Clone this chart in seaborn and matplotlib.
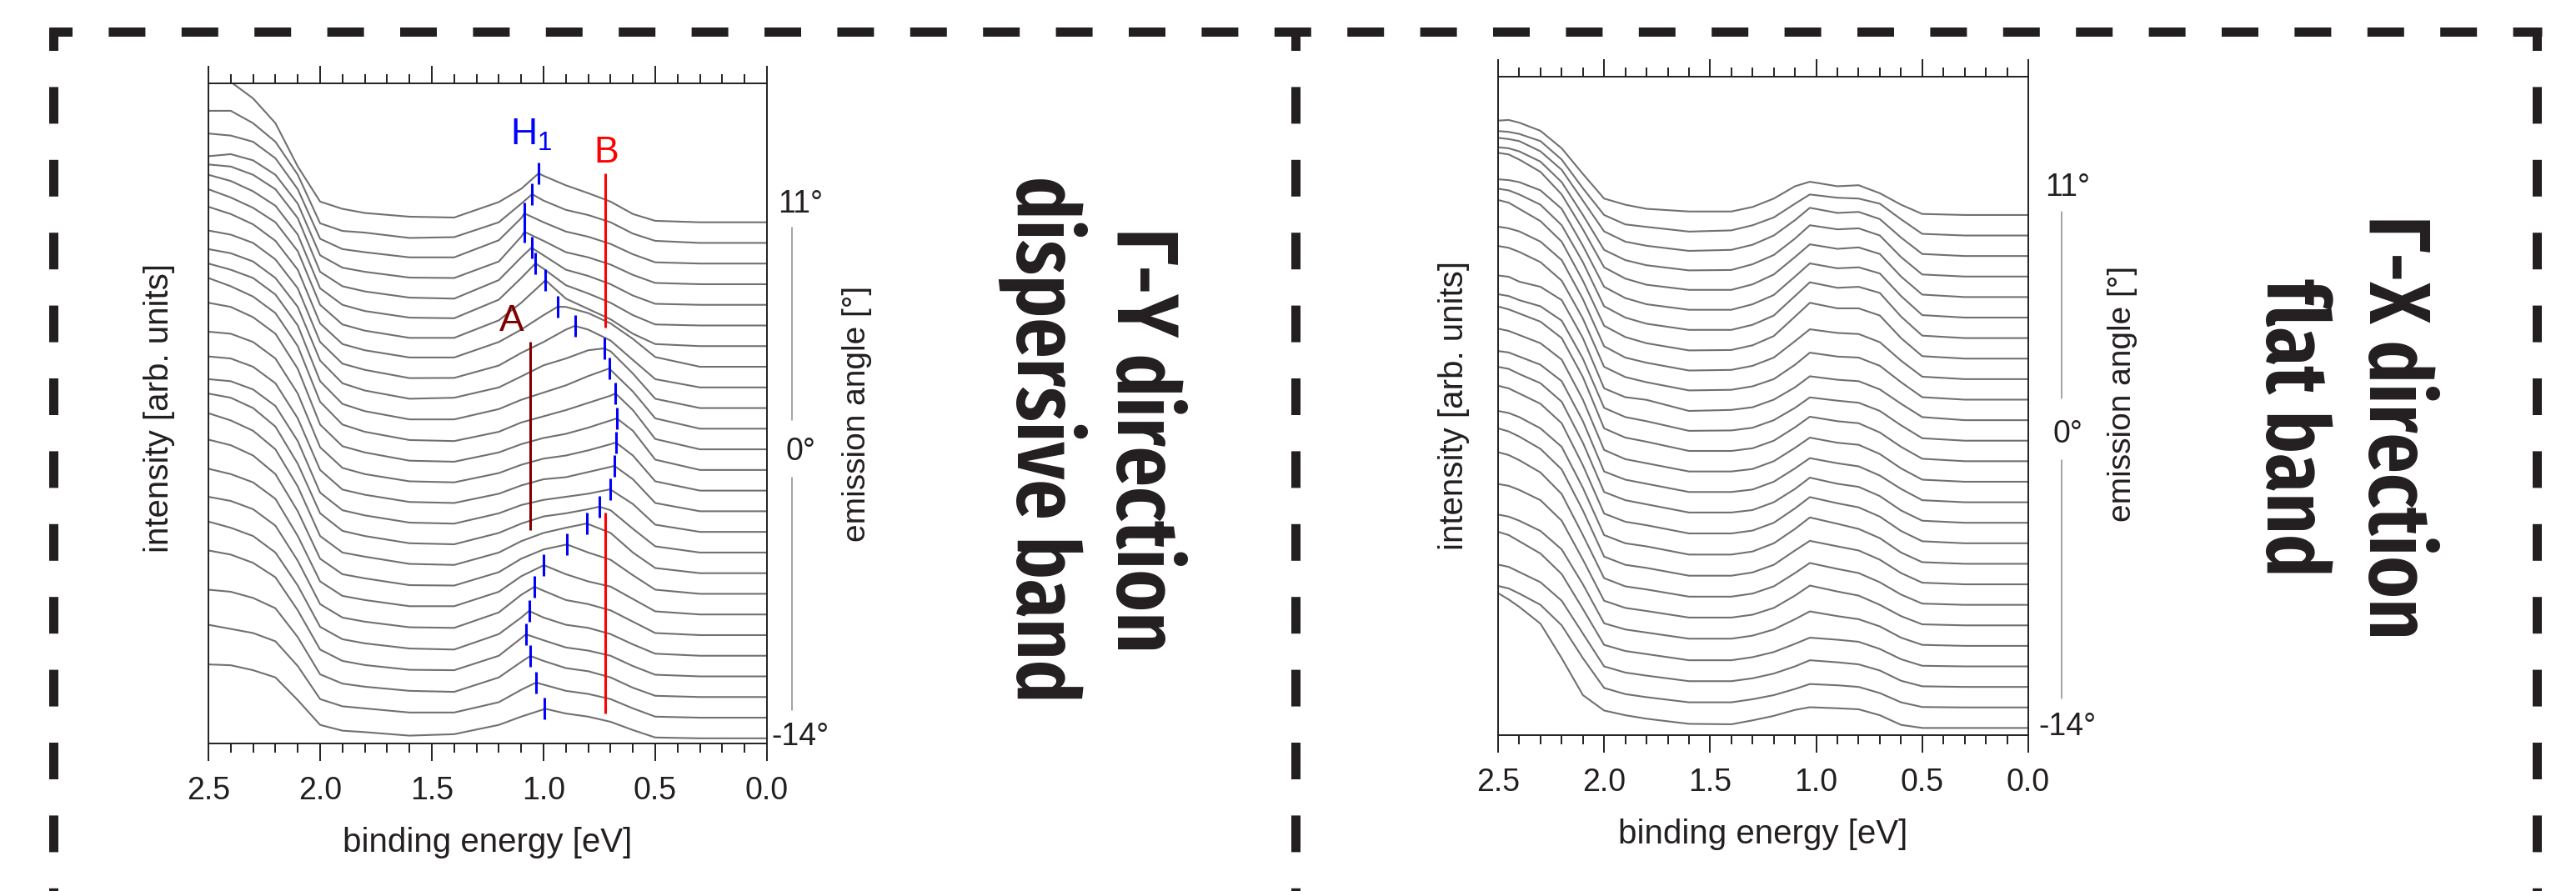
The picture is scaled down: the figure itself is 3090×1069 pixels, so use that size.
import numpy as np
import pandas as pd
import matplotlib
matplotlib.use("Agg")
import matplotlib.pyplot as plt
from matplotlib import font_manager
from matplotlib.font_manager import FontProperties
from matplotlib.ft2font import FT2Font
from matplotlib.lines import Line2D
from matplotlib.ticker import MultipleLocator, FormatStrFormatter
import seaborn as sns

# one EDC per degree of emission angle, top curve = 11 deg
angles = list(range(11, -15, -1))

# ---- Gamma-Y panel (dispersive band) ----
# intensity above each curve's own baseline (unit = curve spacing), read at these energies
gy_energy = [2.5, 2.4, 2.3, 2.2, 2.1, 2.0, 1.9, 1.8, 1.6, 1.4, 1.2, 1.1, 1.0, 0.9, 0.8, 0.7, 0.6, 0.5, 0.3, 0.0]
gy_curves = [
    [7.30, 6.80, 6.00, 4.80, 2.70, 1.00, 0.65, 0.45, 0.27, 0.23, 0.98, 1.62, 2.25, 1.79, 1.41, 1.00, 0.40, 0.07, 0.0, 0.0],
    [6.40, 6.40, 5.80, 4.90, 3.30, 0.95, 0.58, 0.50, 0.24, 0.28, 1.00, 1.90, 2.05, 1.60, 1.35, 1.00, 0.45, 0.10, 0.0, 0.0],
    [6.30, 6.20, 5.90, 5.10, 3.60, 1.20, 0.70, 0.55, 0.30, 0.30, 1.13, 2.20, 2.00, 1.55, 1.30, 0.95, 0.45, 0.06, 0.0, 0.0],
    [6.20, 6.30, 6.00, 5.30, 3.90, 1.40, 0.80, 0.60, 0.32, 0.30, 1.10, 2.30, 2.10, 1.55, 1.30, 0.95, 0.45, 0.06, 0.0, 0.0],
    [6.80, 6.70, 6.30, 5.60, 4.20, 1.60, 0.90, 0.65, 0.35, 0.30, 1.20, 2.30, 2.40, 1.70, 1.40, 1.00, 0.45, 0.05, 0.0, 0.0],
    [7.30, 7.00, 6.50, 5.80, 4.40, 1.80, 1.00, 0.70, 0.38, 0.35, 1.25, 2.30, 2.75, 1.95, 1.55, 1.10, 0.50, 0.05, 0.0, 0.0],
    [7.60, 7.20, 6.70, 6.00, 4.60, 2.00, 1.05, 0.75, 0.40, 0.40, 1.25, 2.10, 3.10, 2.30, 1.80, 1.30, 0.60, 0.10, 0.0, 0.0],
    [7.75, 7.40, 6.90, 6.10, 4.70, 2.10, 1.10, 0.80, 0.45, 0.45, 1.20, 1.80, 2.50, 2.90, 2.60, 2.10, 1.35, 0.47, 0.0, 0.0],
    [7.60, 7.40, 7.00, 6.20, 4.80, 2.20, 1.15, 0.85, 0.45, 0.46, 1.06, 1.67, 2.20, 2.80, 2.80, 2.27, 1.33, 0.40, 0.0, 0.0],
    [7.70, 7.50, 7.10, 6.30, 4.90, 2.30, 1.20, 0.85, 0.45, 0.50, 1.00, 1.53, 2.07, 2.40, 2.80, 2.75, 1.67, 0.45, 0.0, 0.0],
    [8.00, 7.70, 7.30, 6.50, 5.00, 2.30, 1.20, 0.85, 0.45, 0.45, 0.95, 1.40, 1.75, 2.10, 2.55, 2.85, 1.80, 0.50, 0.0, 0.0],
    [8.30, 7.90, 7.40, 6.60, 5.00, 2.30, 1.20, 0.85, 0.45, 0.40, 0.85, 1.30, 1.60, 1.90, 2.25, 2.60, 1.90, 0.50, 0.0, 0.0],
    [8.10, 7.90, 7.40, 6.60, 4.90, 2.20, 1.15, 0.85, 0.45, 0.40, 0.85, 1.25, 1.55, 1.75, 2.05, 2.40, 1.90, 0.50, 0.0, 0.0],
    [7.70, 7.60, 7.20, 6.40, 4.70, 2.10, 1.10, 0.80, 0.45, 0.40, 0.85, 1.25, 1.55, 1.70, 1.95, 2.25, 1.70, 0.45, 0.0, 0.0],
    [7.50, 7.40, 7.00, 6.20, 4.50, 2.00, 1.05, 0.80, 0.45, 0.40, 0.85, 1.25, 1.55, 1.65, 1.90, 2.15, 1.55, 0.40, 0.0, 0.0],
    [7.40, 7.30, 6.90, 6.10, 4.40, 1.90, 1.05, 0.80, 0.45, 0.40, 0.90, 1.30, 1.55, 1.70, 1.85, 2.05, 1.35, 0.35, 0.0, 0.0],
    [7.70, 7.50, 7.00, 6.10, 4.30, 1.90, 1.05, 0.80, 0.45, 0.40, 0.95, 1.40, 1.75, 1.90, 2.10, 2.05, 1.15, 0.30, 0.0, 0.0],
    [7.75, 7.40, 6.90, 6.00, 4.20, 1.80, 1.00, 0.80, 0.45, 0.40, 1.00, 1.55, 1.95, 2.20, 2.38, 1.95, 1.00, 0.25, 0.0, 0.0],
    [7.47, 7.20, 6.70, 5.80, 4.00, 1.70, 0.95, 0.75, 0.42, 0.40, 1.05, 1.70, 2.15, 2.38, 2.00, 1.65, 0.90, 0.20, 0.0, 0.0],
    [7.06, 6.80, 6.40, 5.60, 3.80, 1.60, 0.90, 0.70, 0.40, 0.40, 1.10, 1.85, 2.38, 1.95, 1.60, 1.35, 0.75, 0.15, 0.0, 0.0],
    [6.70, 6.50, 6.10, 5.30, 3.60, 1.50, 0.85, 0.65, 0.38, 0.35, 1.10, 1.95, 2.15, 1.70, 1.50, 1.20, 0.65, 0.10, 0.0, 0.0],
    [6.50, 6.20, 5.80, 5.00, 3.40, 1.40, 0.80, 0.60, 0.35, 0.30, 1.05, 1.85, 1.85, 1.50, 1.35, 1.05, 0.55, 0.10, 0.0, 0.0],
    [6.10, 5.90, 5.50, 4.80, 3.20, 1.30, 0.75, 0.55, 0.32, 0.30, 1.00, 1.85, 1.75, 1.40, 1.25, 1.00, 0.50, 0.08, 0.0, 0.0],
    [5.20, 5.10, 4.80, 4.30, 2.90, 1.10, 0.65, 0.50, 0.30, 0.25, 0.95, 1.70, 1.75, 1.40, 1.25, 0.95, 0.45, 0.06, 0.0, 0.0],
    [4.50, 4.30, 4.10, 3.70, 2.50, 0.90, 0.55, 0.45, 0.25, 0.25, 0.75, 1.35, 1.60, 1.30, 1.15, 0.90, 0.45, 0.05, 0.0, 0.0],
    [3.58, 3.54, 3.30, 2.95, 1.85, 0.65, 0.37, 0.30, 0.13, 0.20, 0.65, 1.05, 1.40, 1.20, 1.05, 0.80, 0.40, 0.04, 0.0, 0.0],
]
# H1 peak of every curve (blue marks)
h1_energy = [1.022, 1.051, 1.086, 1.086, 1.054, 1.036, 0.992, 0.936, 0.860, 0.728, 0.705, 0.678, 0.672,
             0.676, 0.683, 0.703, 0.750, 0.805, 0.897, 0.999, 1.041, 1.065, 1.079, 1.059, 1.034, 0.996]
h1_height = [2.37, 2.36, 2.43, 2.54, 2.77, 3.01, 3.20, 2.91, 2.98, 2.89, 2.92, 2.71, 2.50,
             2.33, 2.20, 2.06, 2.22, 2.41, 2.40, 2.39, 2.34, 2.17, 2.04, 1.99, 1.70, 1.44]
band_a_energy = 1.06
band_a_span = (5.21, -3.92)
band_b_energy = 0.725
band_b_spans = [(13.36, 5.89), (-3.08, -12.81)]

# ---- Gamma-X panel (flat band) ----
gx_energy = [2.5, 2.45, 2.4, 2.3, 2.2, 2.1, 2.0, 1.9, 1.8, 1.6, 1.4, 1.3, 1.2, 1.1, 1.03, 0.9, 0.8, 0.7, 0.6, 0.5, 0.3, 0.0]
gx_curves = [
    [4.60, 4.63, 4.50, 4.10, 3.25, 2.00, 0.80, 0.50, 0.30, 0.17, 0.17, 0.39, 0.80, 1.40, 1.62, 1.40, 1.45, 1.06, 0.50, 0.05, 0.0, 0.0],
    [5.09, 5.05, 4.95, 4.60, 3.70, 2.30, 1.00, 0.54, 0.42, 0.19, 0.25, 0.50, 0.88, 1.55, 2.00, 1.84, 1.80, 1.55, 0.79, 0.08, 0.0, 0.0],
    [5.76, 5.70, 5.60, 5.10, 4.20, 2.70, 1.20, 0.70, 0.50, 0.25, 0.30, 0.55, 1.00, 1.75, 2.35, 2.10, 2.15, 1.80, 0.90, 0.10, 0.0, 0.0],
    [6.30, 6.25, 6.10, 5.60, 4.60, 3.00, 1.30, 0.80, 0.55, 0.30, 0.32, 0.60, 1.05, 1.85, 2.50, 2.30, 2.35, 2.00, 0.95, 0.10, 0.0, 0.0],
    [7.03, 6.95, 6.70, 6.10, 5.00, 3.30, 1.45, 0.90, 0.60, 0.35, 0.35, 0.62, 1.10, 1.95, 2.57, 2.35, 2.42, 2.10, 1.00, 0.12, 0.0, 0.0],
    [6.74, 6.70, 6.60, 6.20, 5.30, 3.50, 1.50, 0.95, 0.65, 0.38, 0.38, 0.65, 1.10, 2.00, 2.64, 2.40, 2.45, 2.15, 1.05, 0.12, 0.0, 0.0],
    [7.28, 7.20, 7.00, 6.50, 5.50, 3.70, 1.55, 1.00, 0.70, 0.40, 0.40, 0.65, 1.10, 2.05, 2.72, 2.45, 2.50, 2.20, 1.05, 0.12, 0.0, 0.0],
    [7.73, 7.60, 7.30, 6.70, 5.70, 3.80, 1.60, 1.05, 0.75, 0.40, 0.42, 0.65, 1.10, 2.05, 2.72, 2.45, 2.45, 2.10, 1.00, 0.12, 0.0, 0.0],
    [7.43, 7.35, 7.20, 6.70, 5.80, 3.90, 1.60, 1.05, 0.80, 0.42, 0.45, 0.65, 1.05, 1.85, 2.43, 2.25, 2.20, 1.80, 0.90, 0.12, 0.0, 0.0],
    [7.49, 7.40, 7.20, 6.70, 5.80, 3.95, 1.60, 1.10, 0.85, 0.45, 0.48, 0.65, 1.00, 1.70, 2.29, 2.10, 2.05, 1.65, 0.85, 0.12, 0.0, 0.0],
    [7.05, 6.99, 6.75, 6.50, 5.85, 4.00, 1.55, 1.12, 0.99, 0.45, 0.50, 0.63, 1.00, 1.60, 2.14, 1.97, 1.90, 1.50, 0.80, 0.15, 0.0, 0.0],
    [7.14, 7.05, 6.85, 6.55, 5.85, 4.00, 1.60, 1.15, 0.95, 0.48, 0.50, 0.63, 1.00, 1.60, 2.11, 1.95, 1.85, 1.45, 0.75, 0.12, 0.0, 0.0],
    [7.54, 7.40, 7.20, 6.80, 6.00, 4.10, 1.60, 1.15, 0.95, 0.50, 0.50, 0.63, 1.00, 1.65, 2.17, 1.95, 1.85, 1.40, 0.70, 0.12, 0.0, 0.0],
    [7.46, 7.35, 7.15, 6.75, 5.95, 4.00, 1.55, 1.10, 0.90, 0.50, 0.50, 0.62, 1.00, 1.65, 2.15, 1.90, 1.80, 1.35, 0.65, 0.10, 0.0, 0.0],
    [7.37, 7.30, 7.10, 6.70, 5.90, 3.95, 1.50, 1.10, 0.90, 0.50, 0.50, 0.62, 1.00, 1.65, 2.15, 1.90, 1.75, 1.30, 0.65, 0.10, 0.0, 0.0],
    [7.60, 7.50, 7.25, 6.80, 5.90, 3.90, 1.50, 1.10, 0.90, 0.50, 0.50, 0.62, 1.00, 1.65, 2.20, 1.90, 1.75, 1.30, 0.60, 0.10, 0.0, 0.0],
    [7.68, 7.55, 7.30, 6.80, 5.85, 3.80, 1.45, 1.05, 0.88, 0.48, 0.48, 0.62, 1.00, 1.70, 2.25, 1.95, 1.75, 1.30, 0.60, 0.10, 0.0, 0.0],
    [7.45, 7.35, 7.15, 6.60, 5.70, 3.70, 1.40, 1.00, 0.85, 0.45, 0.45, 0.60, 1.00, 1.70, 2.26, 1.95, 1.70, 1.25, 0.55, 0.08, 0.0, 0.0],
    [7.60, 7.45, 7.20, 6.60, 5.60, 3.60, 1.35, 0.95, 0.80, 0.42, 0.42, 0.58, 0.95, 1.65, 2.12, 1.85, 1.65, 1.20, 0.55, 0.08, 0.0, 0.0],
    [7.44, 7.30, 7.05, 6.45, 5.40, 3.40, 1.30, 0.90, 0.75, 0.40, 0.40, 0.55, 0.90, 1.55, 2.04, 1.75, 1.55, 1.10, 0.50, 0.06, 0.0, 0.0],
    [6.89, 6.80, 6.60, 6.10, 5.10, 3.20, 1.20, 0.85, 0.70, 0.38, 0.38, 0.52, 0.85, 1.45, 1.94, 1.65, 1.45, 1.00, 0.45, 0.05, 0.0, 0.0],
    [6.40, 6.30, 6.10, 5.60, 4.70, 3.00, 1.10, 0.80, 0.65, 0.35, 0.35, 0.50, 0.80, 1.30, 1.68, 1.45, 1.30, 0.95, 0.40, 0.05, 0.0, 0.0],
    [6.56, 6.40, 6.10, 5.50, 4.50, 2.80, 1.05, 0.75, 0.60, 0.30, 0.30, 0.45, 0.70, 1.10, 1.40, 1.30, 1.20, 0.85, 0.35, 0.03, 0.0, 0.0],
    [5.96, 5.85, 5.60, 5.10, 4.20, 2.60, 1.00, 0.70, 0.55, 0.28, 0.28, 0.42, 0.65, 1.00, 1.30, 1.20, 1.10, 0.80, 0.30, 0.03, 0.0, 0.0],
    [5.92, 5.80, 5.55, 5.00, 4.00, 2.40, 0.95, 0.65, 0.50, 0.25, 0.25, 0.40, 0.60, 0.90, 1.14, 1.08, 1.00, 0.70, 0.25, 0.02, 0.0, 0.0],
    [6.57, 6.26, 5.90, 5.08, 3.40, 1.60, 0.85, 0.62, 0.45, 0.20, 0.18, 0.37, 0.59, 0.88, 1.01, 0.96, 0.91, 0.62, 0.15, 0.00, 0.0, 0.0],
]

angle_marks = [11, 0, -14]

# ---------------------------------------------------------------
INK = "#231f20"
CURVE = "#707070"
W, H = 3090, 1069

sns.set_theme(style="white")
plt.rcParams["font.family"] = ["Liberation Sans", "DejaVu Sans"]
plt.rcParams["mathtext.default"] = "regular"
plt.rcParams["lines.scale_dashes"] = False


def edc_frame(energy, curves, peak_e=None, peak_h=None):
    rows = []
    for i, (ang, vals) in enumerate(zip(angles, curves)):
        pts = list(zip(energy, vals))
        if peak_e is not None:
            pts.append((peak_e[i], peak_h[i]))
        pts.sort(key=lambda p: -p[0])
        rows += [(ang, e, ang + v) for e, v in pts]
    return pd.DataFrame(rows, columns=["angle", "energy", "signal"])


def px_box(x0, y0, x1, y1):
    # pixel box (top-left origin) -> figure fraction rect
    return [x0 / W, 1 - y1 / H, (x1 - x0) / W, (y1 - y0) / H]


def has_gamma(path):
    try:
        return FT2Font(path).get_char_index(0x393) != 0
    except Exception:
        return False


fig = plt.figure(figsize=(W / 100, H / 100), dpi=100)
renderer = fig.canvas.get_renderer()

# the titles are set in a narrow bold face: take the narrowest bold face available
fallback = font_manager.findfont(FontProperties(family="Liberation Sans", weight="bold"))
title_files = [fallback]
for f in font_manager.fontManager.ttflist:
    tag = (f.name + " " + f.fname).lower()
    if any(k in tag for k in ("narrow", "condensed")) and "bold" in tag \
            and not any(k in tag for k in ("italic", "oblique")) and has_gamma(f.fname):
        title_files.append(f.fname)


def text_len(path, size, s="dispersive band"):
    t = fig.text(0, 0, s, fontproperties=FontProperties(fname=path, size=size))
    w = t.get_window_extent(renderer).width
    t.remove()
    return w


best = min(title_files, key=lambda p: text_len(p, 70))
title_size = min(80, 70 * 631 / text_len(best, 70))
title_prop = FontProperties(fname=best, size=title_size)

panels = [
    dict(df=edc_frame(gy_energy, gy_curves, h1_energy, h1_height), box=(250, 100, 920, 892),
         ylim=(-14.25, 17.73), ylab=(-0.088, 0.508), xlab=-0.150,
         ang_x=1.060, ang_y=[11.88, -0.12, -13.93], line_x=1.045, line_seg=[(10.75, 1.41), (-1.37, -12.64)],
         emis=(1028, 496), title=[("\u0393-Y direction", 1340, 528), ("dispersive band", 1220, 527)]),
    dict(df=edc_frame(gx_energy, gx_curves), box=(1797, 92, 2433, 882),
         ylim=(-14.35, 17.74), ylab=(-0.083, 0.50), xlab=-0.151,
         ang_x=1.074, ang_y=[12.32, 0.30, -13.96], line_x=1.063, line_seg=[(11.14, 2.08), (-0.96, -12.58)],
         emis=(2546, 472), title=[("\u0393-X direction", 2842, 513), ("flat band", 2719, 513)]),
]

axes = []
for p in panels:
    ax = fig.add_axes(px_box(*p["box"]))
    sns.lineplot(data=p["df"], x="energy", y="signal", units="angle", estimator=None, sort=False,
                 color=CURVE, linewidth=1.5, ax=ax, legend=False)
    ax.set_xlim(2.5, 0.0)
    ax.set_ylim(*p["ylim"])
    ax.set_yticks([])
    ax.xaxis.set_major_locator(MultipleLocator(0.5))
    ax.xaxis.set_minor_locator(MultipleLocator(0.1))
    ax.xaxis.set_major_formatter(FormatStrFormatter("%.1f"))
    ax.tick_params(axis="x", which="both", direction="out", top=True, bottom=True,
                   labeltop=False, color=INK, width=1.4, labelsize=27, labelcolor=INK, pad=13)
    ax.tick_params(axis="x", which="major", length=15)
    ax.tick_params(axis="x", which="minor", length=8)
    for s in ax.spines.values():
        s.set_visible(True)
        s.set_color(INK)
        s.set_linewidth(1.4)
    ax.set_xlabel("binding energy [eV]", fontsize=29, color=INK, va="center")
    ax.xaxis.set_label_coords(0.5, p["xlab"])
    ax.set_ylabel("intensity [arb. units]", fontsize=29, color=INK, va="center")
    ax.yaxis.set_label_coords(*p["ylab"])

    # emission angle scale on the right
    tr = ax.get_yaxis_transform()
    for val, yy in zip(angle_marks, p["ang_y"]):
        ax.text(p["ang_x"], yy, f"{val}\u00b0", transform=tr, ha="center", va="center",
                fontsize=27, color=INK, clip_on=False)
    for y0, y1 in p["line_seg"]:
        ax.plot([p["line_x"], p["line_x"]], [y0, y1], transform=tr, color="#8a8a8a", lw=1.1, clip_on=False)
    ex, ey = p["emis"]
    fig.text(ex / W, 1 - ey / H, "emission angle [\u00b0]", rotation=90, ha="center", va="center",
             fontsize=28, color=INK)
    # two-line rotated title, each line placed on its own baseline
    for line, bx, cy in p["title"]:
        fig.text(bx / W, 1 - cy / H, line, rotation=-90, rotation_mode="anchor", ha="center",
                 va="baseline", fontproperties=title_prop, color=INK)
    axes.append(ax)

# band markers in the Gamma-Y panel
ax = axes[0]
base = np.array(angles, dtype=float)
peak = base + np.array(h1_height)
ax.vlines(h1_energy, peak - 0.52, peak + 0.52, color="#0000ff", lw=2.2, zorder=3)
ax.vlines(band_a_energy, band_a_span[1], band_a_span[0], color="#800000", lw=2.2, zorder=3)
for top, bot in band_b_spans:
    ax.vlines(band_b_energy, bot, top, color="#ff0000", lw=2.2, zorder=3)
ax.text(1.149, 14.77, "H$_1$", color="#0000ff", fontsize=32, ha="left", va="baseline")
ax.text(0.72, 14.37, "B", color="#ff0000", fontsize=32, ha="center", va="center")
ax.text(1.142, 6.22, "A", color="#800000", fontsize=32, ha="center", va="center")

# dashed frames around the two panels
pt = 72 / 100
dash = (16.5 * pt, (44 * pt, 43.4 * pt))
frame_kw = dict(transform=fig.transFigure, color=INK, lw=11 * pt, linestyle=dash, dash_capstyle="butt")
fig.add_artist(Line2D([58.5 / W, 3048.5 / W], [1 - 38 / H, 1 - 38 / H], **frame_kw))
for xv in (64, 1554, 3043):
    fig.add_artist(Line2D([xv / W, xv / W], [1 - 32.5 / H, -0.05], **frame_kw))

fig.savefig("out.png", dpi=100, facecolor="white")
